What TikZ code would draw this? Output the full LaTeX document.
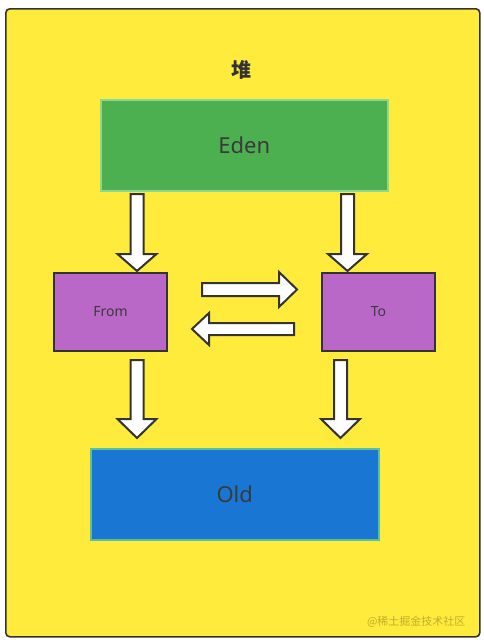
\documentclass[tikz,border=0pt]{standalone}
\usepackage{fontspec}
\setmainfont{Noto Sans}
\newfontfamily\cjk{Noto Sans CJK SC}
\definecolor{heapY}{HTML}{FFEB3B}
\definecolor{edenG}{HTML}{4CAF50}
\definecolor{edenB}{HTML}{8BD88E}
\definecolor{surv}{HTML}{BA68C8}
\definecolor{oldB}{HTML}{1976D2}
\definecolor{oldE}{HTML}{5CC0A0}
\definecolor{ink}{HTML}{333333}
\definecolor{txt}{HTML}{3A3A3A}
\begin{document}
\begin{tikzpicture}[x=1pt,y=-1pt,
  region/.style={draw=#1,line width=1.5pt,inner sep=0pt,anchor=north west,text=txt,font=\fontsize{22}{26}\selectfont},
  survbox/.style={draw=ink,fill=surv,line width=2pt,inner sep=0pt,anchor=north west,text=txt,font=\fontsize{14}{17}\selectfont,minimum width=113pt,minimum height=78pt},
  blockarrow/.style={draw=ink,fill=white,line width=2pt,line join=miter}]
\useasboundingbox (0,0) rectangle (484,643);
\fill[white] (0,0) rectangle (484,643);
% heap
\node[draw=ink,fill=heapY,line width=1.6pt,rounded corners=4pt,anchor=north west,minimum width=474pt,minimum height=628pt,inner sep=0pt] (heap) at (5,8) {};
\node[font=\cjk\bfseries\fontsize{20}{22}\selectfont,text=ink] (title) at (241,70) {堆};
% boxes
\node[region=edenB,fill=edenG,minimum width=287pt,minimum height=91pt] (eden) at (100,99) {Eden};
\node[survbox] (from) at (53,272) {From};
\node[survbox] (to) at (321,272) {To};
\node[region=oldE,fill=oldB,minimum width=288pt,minimum height=91pt] (old) at (90,448) {Old};
% block arrows
% Eden -> From
\draw[blockarrow] (130.5,194) -- (143.5,194) -- (143.5,254) -- (156.5,254) -- (137,271) -- (117.5,254) -- (130.5,254) -- cycle;
% Eden -> To
\draw[blockarrow] (341,194) -- (354,194) -- (354,254) -- (367,254) -- (347.5,271) -- (328,254) -- (341,254) -- cycle;
% From -> To
\draw[blockarrow] (202,283) -- (279,283) -- (279,272) -- (297,289.5) -- (279,307) -- (279,296) -- (202,296) -- cycle;
% To -> From
\draw[blockarrow] (294,323) -- (209,323) -- (209,313) -- (192,329) -- (209,345) -- (209,335) -- (294,335) -- cycle;
% From -> Old
\draw[blockarrow] (130.5,360) -- (143.5,360) -- (143.5,419) -- (156.5,419) -- (137,438) -- (117.5,419) -- (130.5,419) -- cycle;
% To -> Old
\draw[blockarrow] (334,360) -- (347,360) -- (347,419) -- (360,419) -- (340.5,438) -- (321,419) -- (334,419) -- cycle;
% watermark
\node[font=\cjk\fontsize{11}{13}\selectfont,text=black,opacity=0.25,anchor=east] (wm) at (469,622) {@稀土掘金技术社区};
\end{tikzpicture}
\end{document}
